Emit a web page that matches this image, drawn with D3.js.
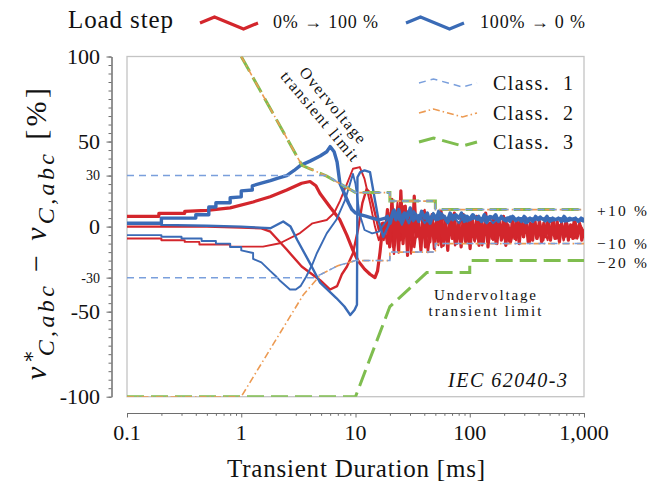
<!DOCTYPE html>
<html><head><meta charset="utf-8">
<script src="https://cdn.jsdelivr.net/npm/d3@7"></script>
<style>
body{margin:0;background:#fff;}
svg{display:block;font-family:'Liberation Serif','DejaVu Serif',serif;}
</style>
</head><body>
<svg id="c" width="651" height="483"></svg>
<script>
// ---------------- data ----------------
const xTickValues = [0.1, 1, 10, 100, 1000];
const xTickLabels = ["0.1", "1", "10", "100", "1,000"];
const yTickValues = [100, 50, 0, -50, -100];
const ySmallTickValues = [30, -30];
const rightLabelValues = [10, -10, -20];
const rightLabelTexts = ["+10\u00a0%", "\u221210\u00a0%", "\u221220\u00a0%"];
const legendTop = ["0%\u00a0\u2192\u00a0100\u00a0%", "100%\u00a0\u2192\u00a00\u00a0%"];
const legendClass = ["Class.\u00a0\u00a01", "Class.\u00a0\u00a02", "Class.\u00a0\u00a03"];

// limit curves [ms, %]
const class1Over  = [[0.1,30],[5.6,30],[10,20],[20,20],[20,15],[50,15],[50,10],[1000,10]];
const class2Over  = [[1,100],[3.4,36],[4,34],[5.6,29.7],[10,20],[20,20],[20,15],[50,15],[50,10],[1000,10]];
const class3Over  = [[1,100],[3.4,36],[4,34],[5.6,29.7],[10,20],[20,20],[20,15],[50,15],[50,10],[1000,10]];
const class1Under = [[0.1,-30],[4.3,-30],[5,-28],[7,-23],[10,-20],[20,-20],[20,-15],[50,-15],[50,-10],[1000,-10]];
const class2Under = [[0.1,-100],[1,-100],[3.5,-40],[5,-28],[7,-23],[10,-20],[20,-20],[20,-15],[50,-15],[50,-10],[1000,-10]];
const class3Under = [[0.1,-100],[10,-100],[20,-47],[42,-27],[100,-27],[100,-20],[1000,-20]];

// load step 0% -> 100% (red), three phases, transient part
const red1 = [[0.1,6],[0.19,6],[0.19,7.8],[0.32,7.8],[0.32,9],[0.5,9.5],[0.8,11],[1.27,14.5],[1.79,17.5],[2.5,21.5],[3.38,25.5],[4,26.5],[4.5,24],[4.89,19.5],[5.98,11.5],[7.3,4],[8.4,-5],[9.5,-14],[10.5,-20],[12,-25],[13.4,-28],[14.8,-30],[15.6,-26],[16.4,-15],[17,-5],[17.5,2]];
const red2 = [[0.1,0],[0.5,0],[1,-0.5],[1.5,-1],[1.8,-3],[2.5,-13.5],[3.38,-23.5],[4.9,-31.5],[6,-37],[6.9,-35],[7.6,-28],[8.4,-23.6],[9.5,-15.7],[10.5,-2],[11.5,14],[12.5,22],[13.4,20],[14.8,8],[16,-2],[17,2]];
const red3 = [[0.1,-7],[0.2,-7],[0.2,-8],[0.32,-8],[0.32,-9],[0.43,-9],[0.43,-10.5],[0.8,-10.5],[0.8,-11.8],[1.55,-11.8],[2.18,-9.8],[3.27,-3.8],[4.2,1.9],[5.6,3.9],[6.5,8],[7.3,15],[8.4,25],[9.5,34],[10.9,35],[12,28],[13.4,14],[14.8,0],[16,-8],[17,-3]];
const red1Tail = [-4,10,-12,16,-8,4,-15,21,-10,12,-17,6,-11,18,-6,2,-14,9,-12,5,-9,7,-13,4,-8,9,-11,3,-14,6,-7,8,-10,2,-12,7,-9,5,-13,4,-8,6,-11,3,-9,8,-12,2,-7,5,-10,4,-8,6,-11,1,-9,5,-7,3,-10,4,-6,5,-9,2,-8,4,-7,3,-9,2,-6,4,-8,1,-7,3,-9,2,-6,4,-8,1,-7,3,-5,2,-8,-2];
const red2Tail = [2,-10,8,-16,4,-8,12,-14,6,-12,3,-9,7,-15,1,-10,6,-12,4,-8,5,-11,2,-9,6,-10,3,-7,5,-11,1,-8,4,-10,2,-7,5,-9,0,-8,3,-6,4,-9,1,-7,3,-8,2,-6,4,-7,1,-8,2,-6,3,-7,0,-4];
const red3Tail = [-8,6,-12,14,-4,9,-16,3,-9,10,-6,2,-11,7,-5,4,-10,6,-8,3,-9,5,-6,2,-8,4,-7,1,-9,3,-5,2,-7,4,-6,1,-8,3,-5,2,-6,0,-7,2,-3];

// load step 100% -> 0% (blue), three phases
const blue1 = [[0.1,2],[0.2,2],[0.2,5],[0.4,5],[0.4,7],[0.52,7],[0.52,11.5],[0.6,11.5],[0.6,14],[0.8,14],[0.8,17],[1.0,17.5],[1.0,21],[1.25,21.5],[1.25,24],[1.5,25.5],[1.8,27],[2.1,28.5],[2.5,30],[2.9,33],[3.3,36],[4,38.5],[4.9,41.5],[5.6,44],[6,47],[6.5,44],[6.9,38],[7.3,25.5],[8.7,13.7],[9.3,10],[10,8],[11,7],[12.5,6],[14,5],[16,4],[18.3,5]];
const blue2 = [[0.1,2],[0.2,2],[0.2,1],[0.5,0.5],[1,0],[1.8,-1],[2.33,3],[2.7,0],[3.1,-8],[4,-21.6],[4.9,-33],[6.8,-42],[8,-47],[9,-52],[9.8,-49],[10.3,-46],[10.4,29],[11,32],[12,33],[13.4,32],[14.8,15.6],[16,3],[17.5,-6],[19.3,0],[21,8]];
const blue3 = [[0.1,-5],[0.2,-5],[0.2,-6],[0.3,-6],[0.3,-7],[0.45,-7],[0.45,-8.5],[0.6,-8.5],[0.6,-10],[0.8,-10],[0.8,-12],[1.0,-12],[1.0,-14],[1.27,-15.5],[1.27,-19],[1.5,-21],[1.79,-26],[2.0,-29],[2.2,-32],[2.67,-37],[3.0,-37],[3.3,-35],[3.7,-29.5],[4.2,-22],[4.6,-15.5],[5.6,-4],[6.8,4],[8.1,15.5],[9.5,31],[10,25],[10.8,8],[12,-2],[14,-4],[16,-3],[18,2],[19.5,5]];
const blue1Tail = [6,2,9,4,10,3,8,5,11,4,7,3,9,5,8,2,7,4,9,5,6,3,8,4,7,5,8,3,6,4,7,5,6,3,7,4,6,5,7,3,6,4,5,3,6,4,5,3,6,4,5,3,6,4,5,4,6,3,5,4,5,3,6,4,5,4,5,3,5,4];
const blue2Tail = [10,4,8,2,9,5,7,3,8,4,6,2,7,5,6,3,7,4,5,2,6,4,5,3,6,4,5,2,5,4,6,3,5,4,5,3,4,5,4,3];
const blue3Tail = [4,8,1,9,3,7,2,6,4,8,3,6,2,7,4,5,3,6,2,5,4,6,3,5,2,5,4,5,3,4,5,3,4,4,3];

// ---------------- drawing ----------------
const svg = d3.select("#c");
const x = d3.scaleLog().domain([0.1, 1000]).range([127, 584]);
const y = d3.scaleLinear().domain([-100, 100]).range([396.7, 56.5]);
const RED = "#d3262c", BLUE = "#3a6bb6", C1 = "#7a9fdc", C2 = "#ec9a52", C3 = "#7fbd4f";

// sample instants of the ripple records (log-spaced from record start to 1000 ms)
function withTail(main, tail) {
  const t0 = main[main.length - 1][0] * 1.04;
  const n = tail.length;
  return main.concat(tail.map((v, i) => [t0 * Math.pow(1000 / t0, i / (n - 1)), v]));
}

// frame
svg.append("rect").attr("x", x(0.1)).attr("y", y(100))
  .attr("width", x(1000) - x(0.1)).attr("height", y(-100) - y(100))
  .attr("fill", "none").attr("stroke", "#c4c4c4").attr("stroke-width", 1.3);

// axes
const axisColor = "#6e6e6e";
const xMinor = xTickValues.slice(0, -1).flatMap(d => d3.range(2, 10).map(k => d * k));
const yMinor = d3.range(-100, 101, 5);
function styleAxis(g) { g.selectAll("path,line").attr("stroke", axisColor).attr("stroke-width", 1); g.selectAll("text").remove(); }
svg.append("g").attr("transform", "translate(0,413)")
  .call(d3.axisBottom(x).tickValues(xMinor).tickSize(2.8).tickSizeOuter(0).tickFormat("")).call(styleAxis);
svg.append("g").attr("transform", "translate(0,413)")
  .call(d3.axisBottom(x).tickValues(xTickValues).tickSize(4.5).tickSizeOuter(0).tickFormat("")).call(styleAxis);
svg.append("g").attr("transform", "translate(111.5,0)")
  .call(d3.axisLeft(y).tickValues(yMinor).tickSize(3).tickSizeOuter(0).tickFormat("")).call(styleAxis);
svg.append("g").attr("transform", "translate(111.5,0)")
  .call(d3.axisLeft(y).tickValues(yTickValues.concat(ySmallTickValues)).tickSize(5).tickSizeOuter(0).tickFormat("")).call(styleAxis);

// tick labels
svg.append("g").selectAll("text").data(xTickValues).join("text")
  .attr("x", d => x(d)).attr("y", 440).attr("text-anchor", "middle")
  .style("font-size", "22px").attr("fill", "#111").text((d, i) => xTickLabels[i]);
svg.append("g").selectAll("text").data(yTickValues).join("text")
  .attr("x", 100).attr("y", d => y(d)).attr("dy", "0.35em").attr("text-anchor", "end")
  .style("font-size", "22px").attr("fill", "#111").text(d => d);
svg.append("g").selectAll("text").data(ySmallTickValues).join("text")
  .attr("x", 100).attr("y", d => y(d)).attr("dy", "0.35em").attr("text-anchor", "end")
  .style("font-size", "14px").attr("fill", "#111").text(d => d);

// axis titles
svg.append("text").attr("x", 356).attr("y", 477).attr("text-anchor", "middle")
  .style("font-size", "25px").attr("textLength", 258).attr("fill", "#111").text("Transient Duration [ms]");
const yl = svg.append("text").attr("transform", "translate(46,234) rotate(-90)")
  .attr("text-anchor", "middle").style("font-size", "30px").style("font-style", "italic")
  .attr("textLength", 292).attr("lengthAdjust", "spacing").attr("fill", "#111");
yl.append("tspan").text("v");
yl.append("tspan").attr("dy", -11).style("font-size", "20px").style("font-style", "normal").text("\u2217");
yl.append("tspan").attr("dx", -10).attr("dy", 19).style("font-size", "24px").text("C,abc");
yl.append("tspan").attr("dy", -8).style("font-style", "normal").text("\u00a0\u2212\u00a0");
yl.append("tspan").text("v");
yl.append("tspan").attr("dy", 8).style("font-size", "24px").text("C,abc");
yl.append("tspan").attr("dy", -8).style("font-style", "normal").text("\u00a0[%]");

// data
svg.append("clipPath").attr("id", "pc").append("rect")
  .attr("x", x(0.1)).attr("y", y(100)).attr("width", x(1000) - x(0.1)).attr("height", y(-100) - y(100));
const gData = svg.append("g").attr("clip-path", "url(#pc)");
const line = d3.line().x(d => x(d[0])).y(d => y(d[1]));
const curves = [
  {d: withTail(red2, red2Tail), c: RED, w: 2.4},
  {d: withTail(red3, red3Tail), c: RED, w: 1.9},
  {d: withTail(red1, red1Tail), c: RED, w: 3.2},
  {d: withTail(blue3, blue3Tail), c: BLUE, w: 1.9},
  {d: withTail(blue2, blue2Tail), c: BLUE, w: 2.4},
  {d: withTail(blue1, blue1Tail), c: BLUE, w: 3.4}
];
gData.selectAll("path.cur").data(curves).join("path").attr("class", "cur")
  .attr("d", d => line(d.d)).attr("fill", "none").attr("stroke", d => d.c)
  .attr("stroke-width", d => d.w).attr("stroke-linejoin", "round");

// limits
const limits = [
  {d: class3Over, c: C3, w: 3, dash: "17,7"},
  {d: class3Under, c: C3, w: 3, dash: "17,7"},
  {d: class2Over, c: C2, w: 1.6, dash: "7,3,1.5,3"},
  {d: class2Under, c: C2, w: 1.6, dash: "7,3,1.5,3"},
  {d: class1Over, c: C1, w: 1.5, dash: "7,5"},
  {d: class1Under, c: C1, w: 1.5, dash: "7,5"}
];
gData.selectAll("path.lim").data(limits).join("path").attr("class", "lim")
  .attr("d", d => line(d.d)).attr("fill", "none").attr("stroke", d => d.c)
  .attr("stroke-width", d => d.w).attr("stroke-dasharray", d => d.dash);

// annotations
svg.append("g").attr("transform", "translate(333,105) rotate(50)")
  .append("text").attr("text-anchor", "middle").attr("dy", "0.35em").style("font-size", "16px")
  .attr("textLength", 94).attr("fill", "#111").text("Overvoltage");
svg.append("g").attr("transform", "translate(320,116) rotate(50)")
  .append("text").attr("text-anchor", "middle").attr("dy", "0.35em").style("font-size", "16px")
  .attr("textLength", 112).attr("fill", "#111").text("transient limit");
svg.append("text").attr("x", 485).attr("y", 300).attr("text-anchor", "middle").style("font-size", "15px")
  .attr("textLength", 102).attr("fill", "#111").text("Undervoltage");
svg.append("text").attr("x", 485).attr("y", 316).attr("text-anchor", "middle").style("font-size", "15px")
  .attr("textLength", 113).attr("fill", "#111").text("transient limit");
svg.append("text").attr("x", 567).attr("y", 387).attr("text-anchor", "end").style("font-size", "20px")
  .style("font-style", "italic").attr("textLength", 119).attr("fill", "#111").text("IEC 62040-3");

// right-hand labels (small offsets keep the two lower labels apart)
const rightLabelOffsets = [6, 5, 7.5];
svg.append("g").selectAll("text").data(rightLabelValues).join("text")
  .attr("x", 597).attr("y", (d, i) => y(d) + rightLabelOffsets[i]).style("font-size", "15.5px")
  .attr("textLength", 50).attr("fill", "#111")
  .text((d, i) => rightLabelTexts[i]);

// legend zigzag
function zig(g, x0, yc, w, amp, color, width, dash) {
  const pts = [[x0, yc], [x0 + w * 0.25, yc - amp], [x0 + w * 0.75, yc + amp], [x0 + w, yc]];
  g.append("path").attr("d", d3.line()(pts)).attr("fill", "none").attr("stroke", color)
    .attr("stroke-width", width).attr("stroke-dasharray", dash || null);
}
const gl = svg.append("g");
gl.append("text").attr("x", 68).attr("y", 28).style("font-size", "25px").attr("textLength", 105).attr("fill", "#111").text("Load step");
zig(gl, 200, 23, 58, 6, RED, 3.2);
gl.append("text").attr("x", 273).attr("y", 28).style("font-size", "18px").attr("textLength", 105).attr("fill", "#111").text(legendTop[0]);
zig(gl, 406, 23, 58, 6, BLUE, 3.2);
gl.append("text").attr("x", 480).attr("y", 28).style("font-size", "18px").attr("textLength", 105).attr("fill", "#111").text(legendTop[1]);

const gc = svg.append("g");
const classStyles = [{c: C1, w: 1.5, dash: "7,5"}, {c: C2, w: 1.6, dash: "7,3,1.5,3"}, {c: C3, w: 3, dash: "17,7"}];
[83, 113, 142].forEach((yy, i) => {
  zig(gc, 419, yy, 58, 4, classStyles[i].c, classStyles[i].w, classStyles[i].dash);
  gc.append("text").attr("x", 493).attr("y", yy + 7).style("font-size", "20px").attr("textLength", 80)
    .attr("fill", "#111").text(legendClass[i]);
});
</script>
</body></html>
